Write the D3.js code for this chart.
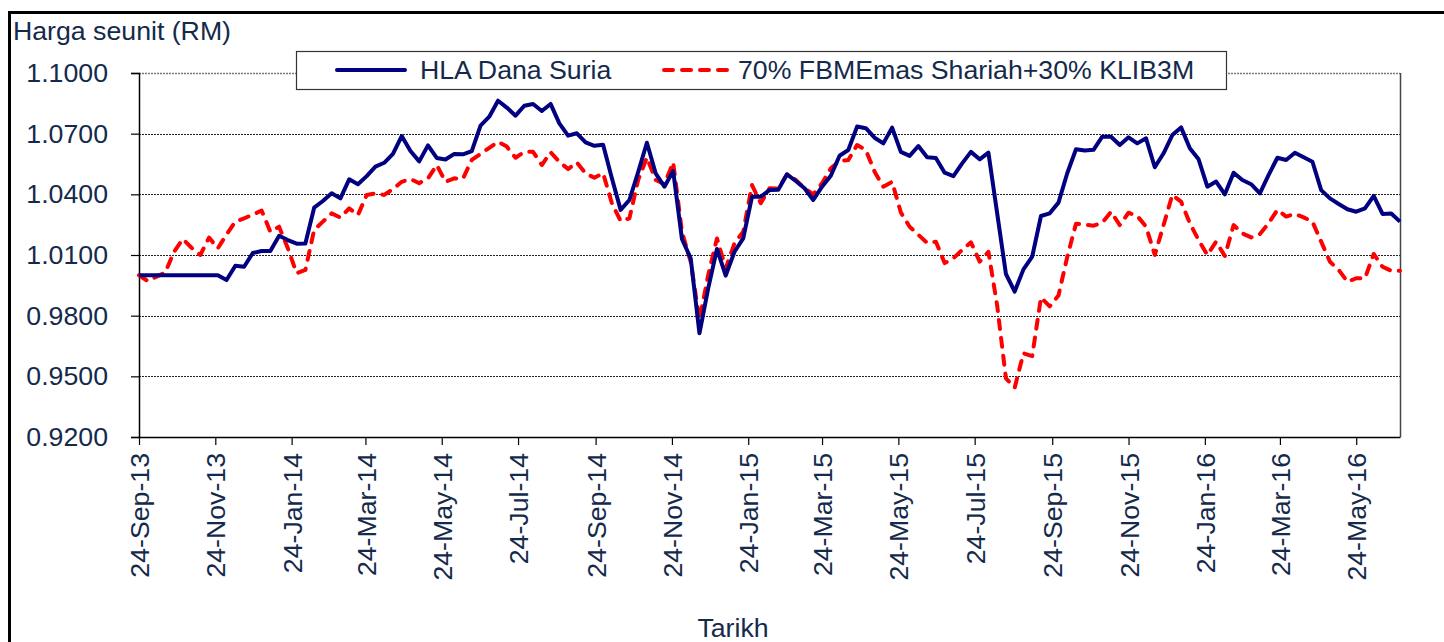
<!DOCTYPE html>
<html>
<head>
<meta charset="utf-8">
<script src="https://d3js.org/d3.v7.min.js"></script>
<style>
  body { margin: 0; background: #fff; }
  svg { display: block; font-family: "Liberation Sans", Arial, sans-serif; }
</style>
</head>
<body>
<svg id="chart" width="1444" height="642"></svg>
<script>
const width = 1444;
const height = 642;

// weekly prices, first week 24-Sep-13
const startDate = "24-Sep-13";

const hlaSuria = [
  1.0000, 1.0000, 1.0000, 1.0000, 1.0000, 1.0000, 1.0000, 1.0000, 1.0000, 1.0000,
  0.9976, 1.0047, 1.0042, 1.0110, 1.0120, 1.0120, 1.0195, 1.0174, 1.0156, 1.0157,
  1.0334, 1.0367, 1.0405, 1.0380, 1.0474, 1.0450, 1.0490, 1.0537, 1.0556, 1.0600,
  1.0688, 1.0614, 1.0563, 1.0642, 1.0580, 1.0572, 1.0600, 1.0598, 1.0614, 1.0740,
  1.0784, 1.0863, 1.0829, 1.0789, 1.0838, 1.0847, 1.0812, 1.0847, 1.0751, 1.0690,
  1.0702, 1.0657, 1.0640, 1.0645, 1.0480, 1.0323, 1.0372, 1.0510, 1.0655, 1.0504,
  1.0438, 1.0515, 1.0179, 1.0084, 0.9713, 0.9935, 1.0130, 0.9998, 1.0116, 1.0182,
  1.0388, 1.0388, 1.0421, 1.0423, 1.0499, 1.0466, 1.0430, 1.0372, 1.0438, 1.0492,
  1.0591, 1.0619, 1.0735, 1.0727, 1.0680, 1.0652, 1.0730, 1.0610, 1.0590, 1.0639,
  1.0583, 1.0580, 1.0507, 1.0490, 1.0553, 1.0610, 1.0573, 1.0606, 1.0306, 1.0006,
  0.9919, 1.0029, 1.0092, 1.0293, 1.0306, 1.0359, 1.0504, 1.0623, 1.0617, 1.0620,
  1.0685, 1.0685, 1.0644, 1.0682, 1.0652, 1.0677, 1.0534, 1.0603, 1.0693, 1.0731,
  1.0628, 1.0573, 1.0438, 1.0463, 1.0400, 1.0507, 1.0471, 1.0450, 1.0405, 1.0496,
  1.0581, 1.0570, 1.0606, 1.0583, 1.0561, 1.0421, 1.0380, 1.0352, 1.0326, 1.0314,
  1.0331, 1.0392, 1.0303, 1.0305, 1.0265
];

const benchmark = [
  1.0000, 0.9971, 0.9993, 1.0014, 1.0116, 1.0179, 1.0136, 1.0100, 1.0186, 1.0133,
  1.0202, 1.0265, 1.0281, 1.0300, 1.0320, 1.0215, 1.0240, 1.0133, 1.0010, 1.0026,
  1.0224, 1.0265, 1.0306, 1.0285, 1.0331, 1.0298, 1.0397, 1.0405, 1.0397, 1.0426,
  1.0462, 1.0476, 1.0455, 1.0479, 1.0545, 1.0462, 1.0479, 1.0478, 1.0570, 1.0600,
  1.0630, 1.0660, 1.0636, 1.0581, 1.0610, 1.0610, 1.0545, 1.0608, 1.0561, 1.0525,
  1.0558, 1.0504, 1.0482, 1.0504, 1.0356, 1.0268, 1.0281, 1.0471, 1.0582, 1.0471,
  1.0450, 1.0558, 1.0215, 1.0067, 0.9779, 1.0001, 1.0182, 1.0034, 1.0158, 1.0215,
  1.0446, 1.0356, 1.0430, 1.0428, 1.0499, 1.0471, 1.0430, 1.0400, 1.0455, 1.0529,
  1.0565, 1.0570, 1.0644, 1.0619, 1.0512, 1.0438, 1.0462, 1.0310, 1.0240, 1.0200,
  1.0160, 1.0166, 1.0060, 1.0084, 1.0125, 1.0163, 1.0067, 1.0116, 0.9850, 0.9490,
  0.9444, 0.9614, 0.9600, 0.9890, 0.9846, 0.9900, 1.0090, 1.0255, 1.0250, 1.0245,
  1.0260, 1.0314, 1.0248, 1.0309, 1.0293, 1.0240, 1.0100, 1.0248, 1.0397, 1.0364,
  1.0257, 1.0174, 1.0100, 1.0166, 1.0095, 1.0248, 1.0207, 1.0187, 1.0204, 1.0257,
  1.0323, 1.0290, 1.0303, 1.0286, 1.0265, 1.0166, 1.0067, 1.0026, 0.9968, 0.9985,
  0.9985, 1.0105, 1.0042, 1.0022, 1.0022
];

const xTickLabels = [
  "24-Sep-13", "24-Nov-13", "24-Jan-14", "24-Mar-14", "24-May-14", "24-Jul-14",
  "24-Sep-14", "24-Nov-14", "24-Jan-15", "24-Mar-15", "24-May-15", "24-Jul-15",
  "24-Sep-15", "24-Nov-15", "24-Jan-16", "24-Mar-16", "24-May-16"
];
const yTicks = [0.92, 0.95, 0.98, 1.01, 1.04, 1.07, 1.10];

const seriesNames = ["HLA Dana Suria", "70% FBMEmas Shariah+30% KLIB3M"];

const textColor = "#142a4c";
const fontSize = 26.7;
const margin = { top: 73, right: 44, bottom: 205, left: 139 };

const parse = d3.timeParse("%d-%b-%y");
const dates = hlaSuria.map((_, i) => d3.timeWeek.offset(parse(startDate), i));

const x = d3.scaleTime()
  .domain([dates[0], dates[dates.length - 1]])
  .range([margin.left, width - margin.right]);
const y = d3.scaleLinear()
  .domain([0.92, 1.10])
  .range([height - margin.bottom, margin.top]);

const svg = d3.select("svg#chart");

// outer frame (left and top only are visible)
svg.append("line")
  .attr("x1", 9.5).attr("x2", 9.5).attr("y1", 11).attr("y2", height)
  .attr("stroke", "#000").attr("stroke-width", 3);
svg.append("line")
  .attr("x1", 8).attr("x2", width).attr("y1", 12.5).attr("y2", 12.5)
  .attr("stroke", "#000").attr("stroke-width", 3);

// gridlines
svg.append("g")
  .selectAll("line")
  .data(yTicks.slice(1))
  .join("line")
  .attr("x1", margin.left)
  .attr("x2", width - margin.right)
  .attr("y1", d => Math.round(y(d)) + 0.5)
  .attr("y2", d => Math.round(y(d)) + 0.5)
  .attr("stroke", d => d === 1.10 ? "#777" : "#222")
  .attr("stroke-width", d => d === 1.10 ? 1.5 : 1)
  .attr("stroke-dasharray", "2,1");

// right border of plot
svg.append("line")
  .attr("x1", width - margin.right + 0.5).attr("x2", width - margin.right + 0.5)
  .attr("y1", margin.top).attr("y2", height - margin.bottom)
  .attr("stroke", "#444").attr("stroke-width", 1.5);

// y axis
const yAxis = svg.append("g")
  .attr("transform", `translate(${margin.left},0)`)
  .call(d3.axisLeft(y).tickValues(yTicks).tickFormat(d3.format(".4f")).tickSize(8).tickPadding(23));
yAxis.select(".domain").attr("stroke", "#000").attr("stroke-width", 1.5);
yAxis.selectAll(".tick line").attr("stroke", "#000").attr("stroke-width", 1.2);
yAxis.selectAll("text")
  .attr("font-size", fontSize)
  .attr("fill", textColor)
  .attr("font-family", "Liberation Sans, Arial, sans-serif");

// x axis
const xAxis = svg.append("g")
  .attr("transform", `translate(0,${height - margin.bottom})`)
  .call(d3.axisBottom(x).tickValues(xTickLabels.map(parse)).tickFormat(d3.timeFormat("%d-%b-%y")).tickSize(8).tickSizeOuter(0));
xAxis.select(".domain").attr("stroke", "#000").attr("stroke-width", 1.5);
xAxis.selectAll(".tick line").attr("stroke", "#000").attr("stroke-width", 1.2);
xAxis.selectAll("text")
  .attr("font-size", fontSize)
  .attr("fill", textColor)
  .attr("font-family", "Liberation Sans, Arial, sans-serif")
  .attr("text-anchor", "end")
  .attr("transform", "rotate(-90)")
  .attr("x", -16)
  .attr("y", 0)
  .attr("dy", "0.36em");

// lines
const line = d3.line()
  .x((d, i) => x(dates[i]))
  .y(d => y(d));

svg.append("path")
  .datum(benchmark)
  .attr("fill", "none")
  .attr("stroke", "#ff0000")
  .attr("stroke-width", 4)
  .attr("stroke-linecap", "round")
  .attr("stroke-linejoin", "round")
  .attr("stroke-dasharray", "9,9")
  .attr("d", line);

svg.append("path")
  .datum(hlaSuria)
  .attr("fill", "none")
  .attr("stroke", "#000080")
  .attr("stroke-width", 4)
  .attr("stroke-linejoin", "round")
  .attr("d", line);

// axis titles
svg.append("text")
  .attr("x", 13)
  .attr("y", 40)
  .attr("font-size", fontSize)
  .attr("fill", textColor)
  .text("Harga seunit (RM)");

svg.append("text")
  .attr("x", 733)
  .attr("y", 637)
  .attr("text-anchor", "middle")
  .attr("font-size", fontSize)
  .attr("fill", textColor)
  .text("Tarikh");

// legend
const legend = svg.append("g");
legend.append("rect")
  .attr("x", 296.5).attr("y", 51.5)
  .attr("width", 930).attr("height", 38)
  .attr("fill", "#fff")
  .attr("stroke", "#333")
  .attr("stroke-width", 1.2);

legend.append("line")
  .attr("x1", 337).attr("x2", 405).attr("y1", 70).attr("y2", 70)
  .attr("stroke", "#000080").attr("stroke-width", 4).attr("stroke-linecap", "round");
legend.append("text")
  .attr("x", 420).attr("y", 79)
  .attr("font-size", fontSize).attr("fill", textColor)
  .text(seriesNames[0]);

legend.append("line")
  .attr("x1", 664).attr("x2", 733).attr("y1", 70).attr("y2", 70)
  .attr("stroke", "#ff0000").attr("stroke-width", 4)
  .attr("stroke-linecap", "round").attr("stroke-dasharray", "9,9");
legend.append("text")
  .attr("x", 738).attr("y", 79)
  .attr("font-size", fontSize).attr("fill", textColor)
  .text(seriesNames[1]);
</script>
</body>
</html>
